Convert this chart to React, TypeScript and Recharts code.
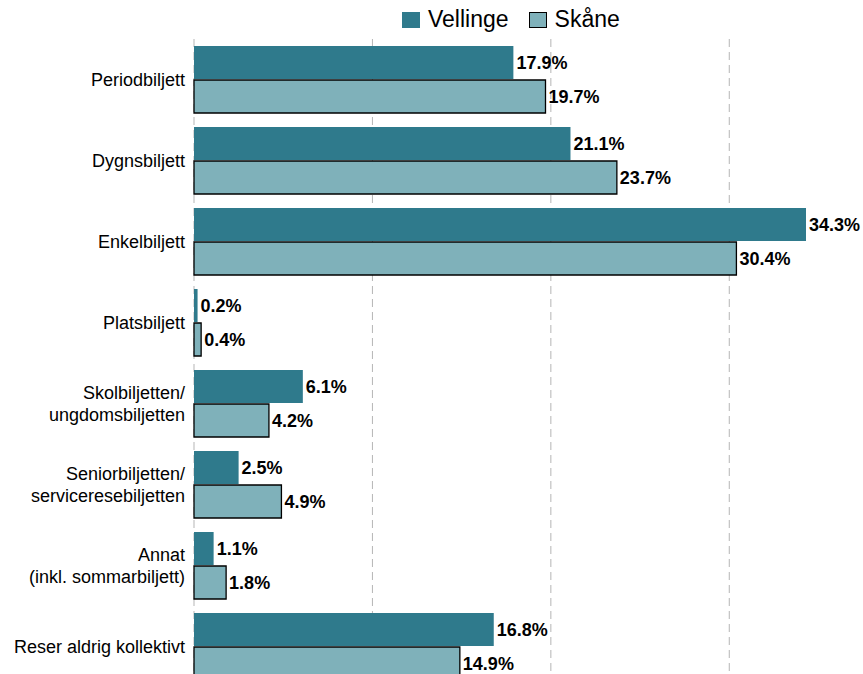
import { BarChart, Bar, XAxis, YAxis, CartesianGrid, LabelList } from "recharts";

const categories = [
  "Periodbiljett",
  "Dygnsbiljett",
  "Enkelbiljett",
  "Platsbiljett",
  "Skolbiljetten/\nungdomsbiljetten",
  "Seniorbiljetten/\nserviceresebiljetten",
  "Annat\n(inkl. sommarbiljett)",
  "Reser aldrig kollektivt",
];
const vellinge = [17.9, 21.1, 34.3, 0.2, 6.1, 2.5, 1.1, 16.8];
const skane = [19.7, 23.7, 30.4, 0.4, 4.2, 4.9, 1.8, 14.9];
const gridTicks = [0, 10, 20, 30];
const xMax = 34.3;

const DARK = "#2f7a8c";
const LIGHT = "#7fb1ba";
const FONT = "'Liberation Sans', Arial, sans-serif";

const data = categories.map((name, i) => ({ name, vellinge: vellinge[i], skane: skane[i] }));

function CategoryTick(props: any) {
  const { x, y, payload } = props;
  const lines = String(payload.value).split("\n");
  const lh = 22;
  const start = -((lines.length - 1) * lh) / 2;
  return (
    <text x={x} y={y} textAnchor="end" fontSize={18} fill="#000" fontFamily={FONT}>
      {lines.map((l, i) => (
        <tspan key={i} x={x} dy={i === 0 ? start + 6 : lh}>
          {l}
        </tspan>
      ))}
    </text>
  );
}

const pct = (v: any) => `${Number(v).toFixed(1)}%`;

// only draw grid lines at 0/10/20/30, not at the right edge
const gridLines = (props: any) => {
  const { xAxis, offset } = props;
  if (xAxis && typeof xAxis.scale === "function") return gridTicks.map((t) => xAxis.scale(t));
  return gridTicks.map((t) => offset.left + (t / xMax) * offset.width);
};

function Legend() {
  const item = (label: string, fill: string, border: boolean, mr: number) => (
    <div style={{ display: "flex", alignItems: "center", marginRight: mr }}>
      <div
        style={{
          width: border ? 16 : 18,
          height: border ? 14 : 16,
          background: fill,
          border: border ? "1px solid #000" : "none",
          marginRight: 8,
        }}
      />
      <span style={{ fontSize: 23, color: "#000" }}>{label}</span>
    </div>
  );
  return (
    <div
      style={{
        position: "absolute",
        top: 6,
        left: 402,
        display: "flex",
        fontFamily: FONT,
        lineHeight: "27px",
      }}
    >
      {item("Vellinge", DARK, false, 20)}
      {item("Skåne", LIGHT, true, 0)}
    </div>
  );
}

export default function App() {
  return (
    <div
      style={{
        position: "fixed",
        top: 0,
        left: 0,
        width: 863,
        height: 674,
        overflow: "hidden",
        background: "#fff",
      }}
    >
      <BarChart
        width={863}
        height={700}
        data={data}
        layout="vertical"
        margin={{ top: 39, right: 57, bottom: 13, left: 0 }}
        barSize={33}
        barGap={1}
      >
        <CartesianGrid
          horizontal={false}
          vertical
          stroke="#b5b5b5"
          strokeDasharray="8 5"
          verticalCoordinatesGenerator={gridLines}
        />
        <XAxis type="number" domain={[0, xMax]} ticks={gridTicks} hide />
        <YAxis
          type="category"
          dataKey="name"
          width={194}
          axisLine={false}
          tickLine={false}
          tick={<CategoryTick />}
          tickMargin={3}
          interval={0}
        />
        <Bar dataKey="vellinge" fill={DARK} isAnimationActive={false}>
          <LabelList
            dataKey="vellinge"
            position="right"
            offset={3}
            formatter={pct}
            fill="#000"
            fontWeight="bold"
            fontSize={18}
            fontFamily={FONT}
          />
        </Bar>
        <Bar dataKey="skane" fill={LIGHT} stroke="#000" strokeWidth={1.3} isAnimationActive={false}>
          <LabelList
            dataKey="skane"
            position="right"
            offset={3}
            formatter={pct}
            fill="#000"
            fontWeight="bold"
            fontSize={18}
            fontFamily={FONT}
          />
        </Bar>
      </BarChart>
      <Legend />
    </div>
  );
}
